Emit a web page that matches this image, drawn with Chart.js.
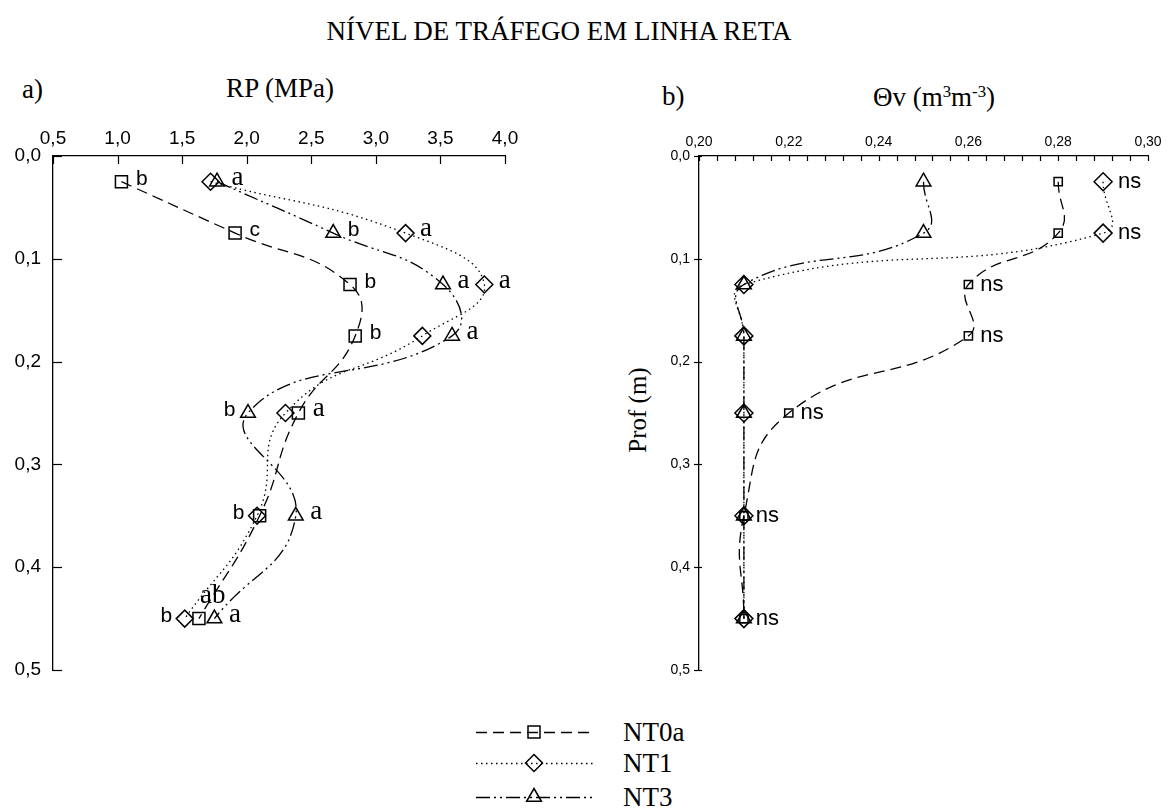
<!DOCTYPE html>
<html>
<head>
<meta charset="utf-8">
<title>Nível de tráfego em linha reta</title>
<script src="https://cdn.jsdelivr.net/npm/chart.js@4.4.1/dist/chart.umd.min.js"></script>
<style>
  html, body { margin: 0; padding: 0; background: #fff; }
  body { width: 1173px; height: 809px; position: relative; overflow: hidden;
         font-family: 'Liberation Serif', 'Times New Roman', serif; color: #000; }
  .t { position: absolute; white-space: nowrap; line-height: 1; }
  canvas { position: absolute; }
  sup { font-size: 62%; vertical-align: 0; position: relative; top: -0.55em; }
</style>
</head>
<body>
<div class="t" style="left:559px; top:31px; transform:translate(-50%,-50%); font-size:27px;">NÍVEL DE TRÁFEGO EM LINHA RETA</div>
<div class="t" style="left:22px; top:89px; transform:translate(0,-50%); font-size:27px;">a)</div>
<div class="t" style="left:280px; top:88px; transform:translate(-50%,-50%); font-size:27px;">RP (MPa)</div>
<div class="t" style="left:662px; top:96px; transform:translate(0,-50%); font-size:27px;">b)</div>
<div class="t" style="left:934px; top:97px; transform:translate(-50%,-50%); font-size:27px;">&Theta;v (m<sup>3</sup>m<sup>-3</sup>)</div>
<div class="t" style="left:637px; top:410px; transform:translate(-50%,-50%) rotate(-90deg); font-size:25px;">Prof (m)</div>

<canvas id="rpChart" width="560" height="700" style="left:0; top:0;"></canvas>
<canvas id="thetaChart" width="587" height="700" style="left:586px; top:0;"></canvas>
<canvas id="legendKey" width="160" height="100" style="left:460px; top:712px;"></canvas>
<div class="t" id="leg0" style="left:623px; top:732px; transform:translate(0,-50%); font-size:27px;"></div>
<div class="t" id="leg1" style="left:623px; top:763px; transform:translate(0,-50%); font-size:27px;"></div>
<div class="t" id="leg2" style="left:623px; top:797px; transform:translate(0,-50%); font-size:27px;"></div>

<script>
// Sampling depths (m)
const depths = [0.025, 0.075, 0.125, 0.175, 0.25, 0.35, 0.45];
const seriesNames = ['NT0a', 'NT1', 'NT3'];

// Penetration resistance, RP (MPa)
const rpNT0a = [1.03, 1.91, 2.80, 2.84, 2.40, 2.10, 1.63];
const rpNT1  = [1.72, 3.23, 3.84, 3.36, 2.30, 2.08, 1.52];
const rpNT3  = [1.77, 2.67, 3.52, 3.59, 2.01, 2.38, 1.75];

// Volumetric water content, Θv (m3 m-3)
const thNT0a = [0.28, 0.28, 0.26, 0.26, 0.22, 0.21, 0.21];
const thNT1  = [0.29, 0.29, 0.21, 0.21, 0.21, 0.21, 0.21];
const thNT3  = [0.25, 0.25, 0.21, 0.21, 0.21, 0.21, 0.21];

// Mean-comparison letters per depth
const rpLetNT0a = ['b', 'c', 'b', 'b', 'a', '', 'ab'];
const rpLetNT1  = ['', 'a', 'a', '', '', 'b', 'b'];
const rpLetNT3  = ['a', 'b', 'a', 'a', 'b', 'a', 'a'];
const thLetNT0a = ['', '', 'ns', 'ns', 'ns', 'ns', 'ns'];
const thLetNT1  = ['ns', 'ns', '', '', '', '', ''];
const thLetNT3  = ['', '', '', '', '', '', ''];

// Tick values and labels
const rpTicks         = [0.5, 1.0, 1.5, 2.0, 2.5, 3.0, 3.5, 4.0];
const rpTickLabels    = ['0,5', '1,0', '1,5', '2,0', '2,5', '3,0', '3,5', '4,0'];
const depthTicks      = [0.0, 0.1, 0.2, 0.3, 0.4, 0.5];
const depthTickLabels = ['0,0', '0,1', '0,2', '0,3', '0,4', '0,5'];
const thTicks         = [0.20, 0.22, 0.24, 0.26, 0.28, 0.30];
const thTickLabels    = ['0,20', '0,22', '0,24', '0,26', '0,28', '0,30'];

// ---- styling ----
const lineStyles = [
  { dash: [11, 6],             width: 1.3, point: 'rect' },
  { dash: [1.5, 3.5],          width: 1.3, point: 'rectRot' },
  { dash: [14, 4, 2, 4, 2, 4], width: 1.3, point: 'triangle' }
];
// where each letter sits relative to its marker: r = right, l = left, u = above
const rpLetterSide = [
  ['r', 'r', 'r', 'r', 'r', 'r', 'u'],
  ['r', 'r', 'r', 'r', 'r', 'l', 'l'],
  ['r', 'r', 'r', 'r', 'l', 'r', 'r']
];
const thLetterSide = [
  ['r', 'r', 'r', 'r', 'r', 'r', 'r'],
  ['r', 'r', 'r', 'r', 'r', 'r', 'r'],
  ['r', 'r', 'r', 'r', 'r', 'r', 'r']
];

Chart.defaults.font.family = "'Liberation Sans', Arial, sans-serif";
Chart.defaults.color = '#000';

// label for a tick value, looked up from a value/label pair of arrays
function labelFor(values, labels) {
  return v => {
    let best = 0;
    values.forEach((t, i) => { if (Math.abs(t - v) < Math.abs(values[best] - v)) best = i; });
    return Math.abs(values[best] - v) < 1e-6 ? labels[best] : '';
  };
}

function makeDatasets(valueArrays, radii) {
  return valueArrays.map((vals, s) => ({
    label: seriesNames[s],
    data: depths.map((d, i) => ({ x: vals[i], y: d })),
    borderColor: '#000',
    borderWidth: lineStyles[s].width,
    borderDash: lineStyles[s].dash,
    tension: 0.48,
    fill: false,
    pointStyle: lineStyles[s].point,
    pointRadius: radii[s],
    pointBorderWidth: 1.5,
    pointBorderColor: '#000',
    pointBackgroundColor: 'rgba(0,0,0,0)'
  }));
}

// inward/outward tick marks
const tickMarks = {
  id: 'tickMarks',
  afterDraw(chart, args, o) {
    const ctx = chart.ctx, xs = chart.scales.x, ys = chart.scales.y, a = chart.chartArea;
    ctx.save();
    ctx.strokeStyle = '#000';
    ctx.lineWidth = 1.2;
    const majors = xs.ticks.map(t => t.value);
    const xv = majors.slice();
    if (o.minorPerMajor) {
      for (let i = 0; i < majors.length - 1; i++) {
        const step = (majors[i + 1] - majors[i]) / (o.minorPerMajor + 1);
        for (let k = 1; k <= o.minorPerMajor; k++) xv.push(majors[i] + k * step);
      }
    }
    xv.forEach(v => {
      const px = Math.round(xs.getPixelForValue(v)) + 0.5;
      ctx.beginPath(); ctx.moveTo(px, a.top); ctx.lineTo(px, a.top + o.xLen); ctx.stroke();
    });
    ys.ticks.forEach(t => {
      const py = Math.round(ys.getPixelForValue(t.value)) + 0.5;
      ctx.beginPath(); ctx.moveTo(a.left - o.yOut, py); ctx.lineTo(a.left + o.yIn, py); ctx.stroke();
    });
    ctx.restore();
  }
};

// letters beside markers
const pointNotes = {
  id: 'pointNotes',
  afterDatasetsDraw(chart, args, o) {
    const ctx = chart.ctx;
    ctx.save();
    ctx.fillStyle = '#000';
    chart.data.datasets.forEach((ds, s) => {
      const meta = chart.getDatasetMeta(s);
      meta.data.forEach((pt, j) => {
        const txt = o.notes[s][j];
        if (!txt) return;
        const side = o.sides[s][j];
        ctx.font = o.fontFor(txt);
        ctx.textBaseline = 'alphabetic';
        const r = ds.pointRadius;
        if (side === 'r') {
          ctx.textAlign = 'left';
          ctx.fillText(txt, pt.x + r + o.gap, pt.y + o.dy);
        } else if (side === 'l') {
          ctx.textAlign = 'right';
          ctx.fillText(txt, pt.x - r - o.gap + 2, pt.y + o.dy);
        } else {
          ctx.textAlign = 'left';
          ctx.fillText(txt, pt.x + 1, pt.y - 16);
        }
      });
    });
    ctx.restore();
  }
};

function axisOptions(cfg) {
  return {
    x: {
      type: 'linear', position: 'top', min: cfg.xMin, max: cfg.xMax,
      afterFit: sc => { sc.height = 156; },
      grid: { display: false, drawTicks: false },
      border: { display: true, color: '#000', width: 1.3 },
      ticks: { stepSize: cfg.xStep, autoSkip: false, maxRotation: 0, padding: cfg.xPad,
               font: { size: cfg.xFont }, callback: labelFor(cfg.xTicks, cfg.xLabels) }
    },
    y: {
      type: 'linear', position: 'left', reverse: true, min: 0, max: 0.5,
      afterFit: sc => { sc.width = cfg.yWidth; },
      grid: { display: false, drawTicks: false },
      border: { display: true, color: '#000', width: 1.3 },
      ticks: { stepSize: 0.1, autoSkip: false, padding: cfg.yPad,
               font: { size: cfg.yFont }, callback: labelFor(depthTicks, depthTickLabels) }
    }
  };
}

const common = {
  responsive: false,
  animation: false,
  devicePixelRatio: 1,
  events: [],
  plugins: { legend: { display: false }, tooltip: { enabled: false } }
};

new Chart(document.getElementById('rpChart'), {
  type: 'line',
  data: { datasets: makeDatasets([rpNT0a, rpNT1, rpNT3], [8.5, 8.5, 8.5]) },
  options: Object.assign({}, common, {
    layout: { padding: { left: 0, top: 0, right: 55, bottom: 30 } },
    scales: axisOptions({ xMin: 0.5, xMax: 4.0, xStep: 0.5, xTicks: rpTicks, xLabels: rpTickLabels,
                          xFont: 19, xPad: 6, yWidth: 53, yFont: 19, yPad: 12 }),
    plugins: Object.assign({}, common.plugins, {
      tickMarks: { xLen: 8, yIn: 9, yOut: 0, minorPerMajor: 0 },
      pointNotes: {
        notes: [rpLetNT0a, rpLetNT1, rpLetNT3], sides: rpLetterSide, gap: 6, dy: 3,
        fontFor: t => (t.indexOf('a') >= 0 ? "27px 'Liberation Serif'" : "21px 'Liberation Sans'")
      }
    })
  }),
  plugins: [tickMarks, pointNotes]
});

new Chart(document.getElementById('thetaChart'), {
  type: 'line',
  data: { datasets: makeDatasets([thNT0a, thNT1, thNT3], [5.8, 9, 8.5]) },
  options: Object.assign({}, common, {
    layout: { padding: { left: 0, top: 0, right: 25, bottom: 30 } },
    scales: axisOptions({ xMin: 0.20, xMax: 0.30, xStep: 0.02, xTicks: thTicks, xLabels: thTickLabels,
                          xFont: 14, xPad: 5, yWidth: 113, yFont: 14, yPad: 9 }),
    plugins: Object.assign({}, common.plugins, {
      tickMarks: { xLen: 5, yIn: 3, yOut: 5, minorPerMajor: 4 },
      pointNotes: {
        notes: [thLetNT0a, thLetNT1, thLetNT3], sides: thLetterSide, gap: 6, dy: 6,
        fontFor: () => "22px 'Liberation Sans'"
      }
    })
  }),
  plugins: [tickMarks, pointNotes]
});

// legend key: line sample with marker for each series
(function drawLegend() {
  const cv = document.getElementById('legendKey');
  const ctx = cv.getContext('2d');
  const rows = [20, 51, 85];
  const x0 = 16, x1 = 133, xm = 74;
  rows.forEach((y, s) => {
    const st = lineStyles[s];
    ctx.save();
    ctx.strokeStyle = '#000';
    ctx.lineWidth = st.width;
    ctx.setLineDash(st.dash);
    ctx.beginPath(); ctx.moveTo(x0, y + 0.5); ctx.lineTo(x1, y + 0.5); ctx.stroke();
    ctx.setLineDash([]);
    ctx.lineWidth = 1.5;
    ctx.beginPath();
    if (st.point === 'rect') {
      ctx.rect(xm - 6, y - 6, 12, 12);
    } else if (st.point === 'rectRot') {
      ctx.moveTo(xm, y - 8.5); ctx.lineTo(xm + 8.5, y); ctx.lineTo(xm, y + 8.5); ctx.lineTo(xm - 8.5, y); ctx.closePath();
    } else {
      ctx.moveTo(xm, y - 8.5); ctx.lineTo(xm + 7.4, y + 4.25); ctx.lineTo(xm - 7.4, y + 4.25); ctx.closePath();
    }
    ctx.stroke();
    ctx.restore();
    document.getElementById('leg' + s).textContent = seriesNames[s];
  });
})();
</script>
</body>
</html>
